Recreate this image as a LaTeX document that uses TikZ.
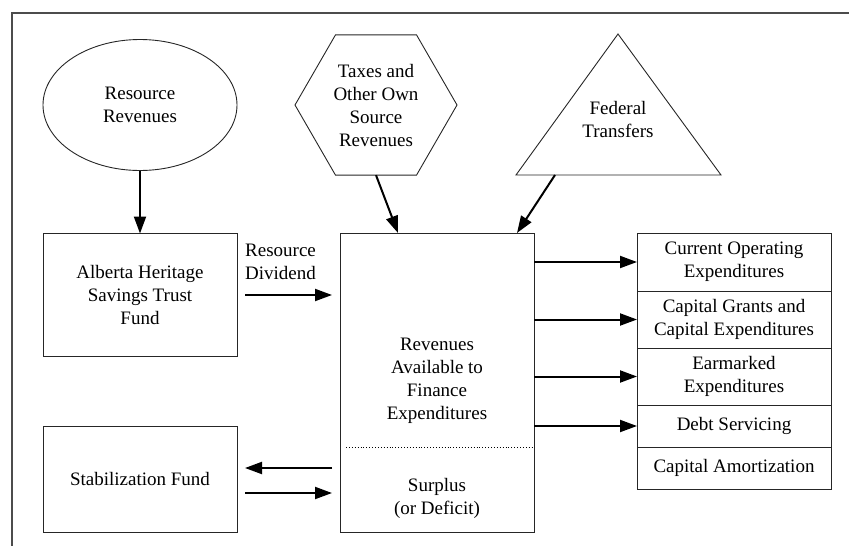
\documentclass[tikz,border=0pt]{standalone}
\usepackage{fontspec}
\setmainfont{Liberation Serif}
\usetikzlibrary{shapes.geometric,positioning,arrows.meta}

\begin{document}
\begin{tikzpicture}[x=1pt,y=-1pt,
	box/.style={draw=black!85,line width=0.9pt,inner sep=0pt,outer sep=0pt,align=center,minimum width=194pt},
	lbl/.style={align=center,inner sep=0pt},
	arr/.style={line width=2pt,-{Triangle[length=17pt,width=12pt]}},
	font=\fontsize{19}{23}\selectfont]
	\useasboundingbox (0,0) rectangle (849,546);
	\draw[black!70,line width=1.2pt] (12,546) -- (12,13) -- (849,13);
	% sources
	\node[box,ellipse,minimum height=131pt] (res) at (140,105) {Resource\\Revenues};
	\node[box,regular polygon,regular polygon sides=6,minimum size=162pt,minimum width=0pt] (tax) at (376,105) {Taxes and\\Other Own\\Source\\Revenues};
	\coordinate (fedtop) at (618,34);
	\coordinate (fedl) at (516,175);
	\coordinate (fedr) at (721,175);
	\coordinate (fedout) at (555,175);
	\draw[black!85,line width=0.9pt] (fedtop) -- (fedr) -- (fedl) -- cycle;
	\node[lbl] (fed) at (618,119) {Federal\\Transfers};
	% funds
	\node[box,minimum height=123pt] (ahstf) at (140,295) {Alberta Heritage\\Savings Trust\\Fund};
	\node[box,minimum height=106pt] (stab) at (140,479) {Stabilization Fund};
	\node[lbl,align=left,anchor=west] (div) at (245,262) {Resource\\Dividend};
	% revenues
	\node[box,minimum height=299pt] (rev) at (437,382.5) {};
	\node[lbl] (avail) at (437,381) {Revenues\\Available to\\Finance\\Expenditures};
	\node[lbl] (surp) at (437,498) {Surplus\\(or Deficit)};
	\draw[dotted,line width=0.9pt] (346,447) -- (532,447);
	% expenditures
	\node[box,minimum height=58pt] (cur) at (734,262) {Current Operating\\Expenditures};
	\node[box,minimum height=57pt,below=0pt of cur] (capg) {Capital Grants and\\Capital Expenditures};
	\node[box,minimum height=57pt,below=0pt of capg] (earm) {Earmarked\\Expenditures};
	\node[box,minimum height=42pt,below=0pt of earm] (debt) {Debt Servicing};
	\node[box,minimum height=42pt,below=0pt of debt] (amort) {Capital Amortization};
	% flows
	\draw[arr] (res) -- (ahstf);
	\draw[arr] (tax.south) -- ([xshift=58pt]rev.north west);
	\draw[arr] (fedout) -- ([xshift=177pt]rev.north west);
	\draw[arr,shorten <=8pt,shorten >=8pt] (ahstf.east) -- (ahstf.east -| rev.west);
	\draw[arr,shorten <=8pt,shorten >=8pt] ([yshift=11pt]stab.east -| rev.west) -- ([yshift=11pt]stab.east);
	\draw[arr,shorten <=8pt,shorten >=8pt] ([yshift=-14pt]stab.east) -- ([yshift=-14pt]stab.east -| rev.west);
	\foreach \n in {cur,capg,earm,debt}{
		\draw[arr] (rev.east |- \n.west) -- (\n.west);
	}
\end{tikzpicture}
\end{document}
